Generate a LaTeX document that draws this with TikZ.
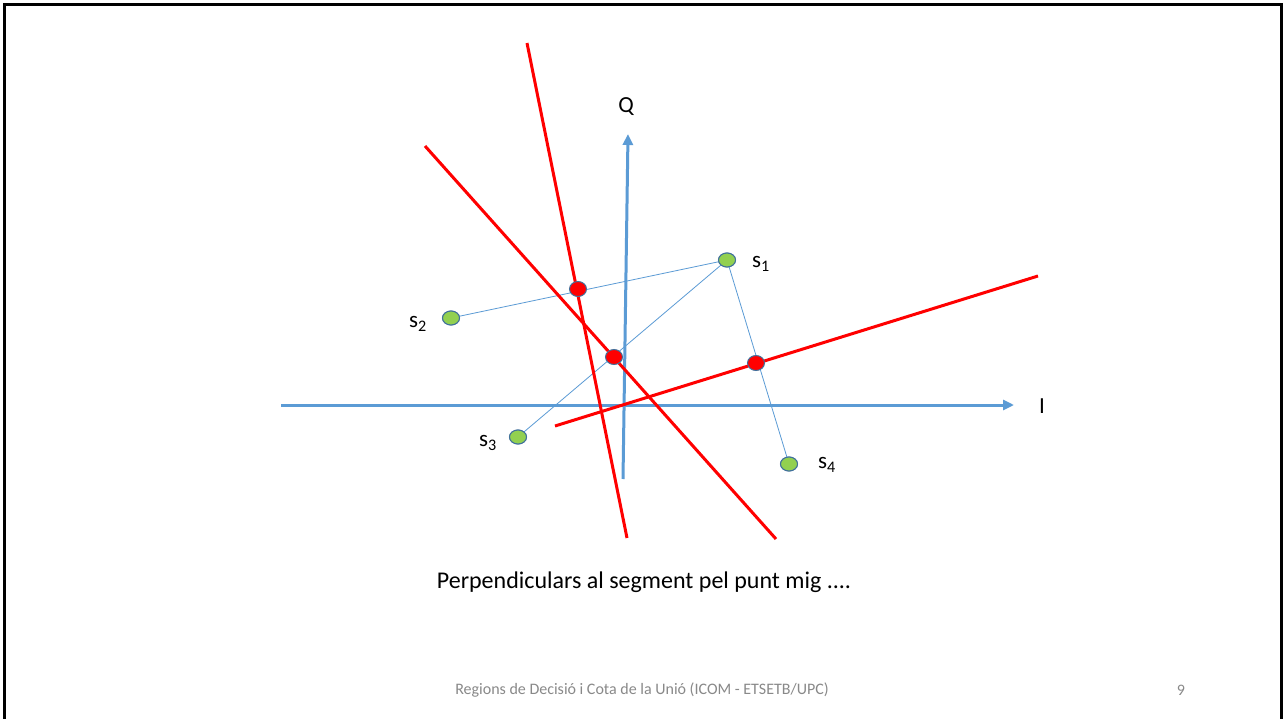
\documentclass[tikz,border=0pt]{standalone}
\usepackage{fontspec}
\setmainfont{Carlito}
\usetikzlibrary{arrows.meta,shapes.geometric}
\definecolor{axisblue}{RGB}{91,155,213}
\definecolor{ptgreen}{RGB}{146,208,80}
\definecolor{ptedge}{RGB}{65,113,156}
\definecolor{footgray}{RGB}{137,137,137}
\tikzset{
  axis/.style={draw=axisblue, line width=3pt, -{Triangle[length=11pt,width=10pt]}},
  link/.style={draw=axisblue, line width=0.8pt},
  bisector/.style={draw=red, line width=3pt},
  sig/.style={ellipse, draw=ptedge, fill=ptgreen, line width=1pt, minimum width=17pt, minimum height=14pt, inner sep=0pt},
  mid/.style={ellipse, draw=ptedge, fill=red, line width=1pt, minimum width=17pt, minimum height=15pt, inner sep=0pt},
  lbl/.style={font=\fontsize{23}{27}\selectfont, inner sep=0pt},
  caption/.style={font=\fontsize{24}{28}\selectfont, inner sep=0pt},
  foot/.style={font=\fontsize{16}{19}\selectfont, text=footgray, inner sep=0pt}
}
\begin{document}
\begin{tikzpicture}[x=1pt,y=-1pt]
\useasboundingbox (0,0) rectangle (1284,719);
\fill[white] (0,0) rectangle (1284,719);
% frame
\draw[line width=3pt, black] (4.8,719) -- (4.8,4.8) -- (1281.8,4.8) -- (1281.8,719);

% axes
\coordinate (Istart) at (281,405);
\coordinate (Iend) at (1014,405);
\coordinate (Qstart) at (623,479);
\coordinate (Qend) at (628,134);
\draw[axis] (Istart) -- (Iend);
\draw[axis] (Qstart) -- (Qend);
\node[lbl] (Ql) at (626,107) {Q};
\node[lbl] (Il) at (1042,406) {I};

% signal points
\node[sig] (s1) at (727,260) {};
\node[sig] (s2) at (451,318) {};
\node[sig] (s3) at (518,437) {};
\node[sig] (s4) at (789,464) {};

% links
\draw[link] (s2.center) -- (s1.center);
\draw[link] (s3.center) -- (s1.center);
\draw[link] (s1.center) -- (s4.center);
\node[sig] at (s1) {};
\node[sig] at (s2) {};
\node[sig] at (s3) {};
\node[sig] at (s4) {};

% bisectors
\coordinate (a1) at (527,43);
\coordinate (a2) at (627,538);
\coordinate (b1) at (425,146);
\coordinate (b2) at (776,539);
\coordinate (c1) at (555,426);
\coordinate (c2) at (1038,276);
\draw[bisector] (a1) -- (a2);
\draw[bisector] (b1) -- (b2);
\draw[bisector] (c1) -- (c2);

% midpoints
\node[mid] (m12) at (578,289) {};
\node[mid] (m13) at (614,357) {};
\node[mid] (m14) at (756,363) {};

% labels
\node[lbl] (l1) at (761,264) {s\textsubscript{1}};
\node[lbl] (l2) at (418,324) {s\textsubscript{2}};
\node[lbl] (l3) at (488,443) {s\textsubscript{3}};
\node[lbl] (l4) at (827,465) {s\textsubscript{4}};

\node[caption] (cap) at (644,582) {Perpendiculars al segment pel punt mig ....};
\node[foot] (ft) at (642,690) {Regions de Decisió i Cota de la Unió (ICOM - ETSETB/UPC)};
\node[foot] (pg) at (1181,690) {9};
\end{tikzpicture}
\end{document}
